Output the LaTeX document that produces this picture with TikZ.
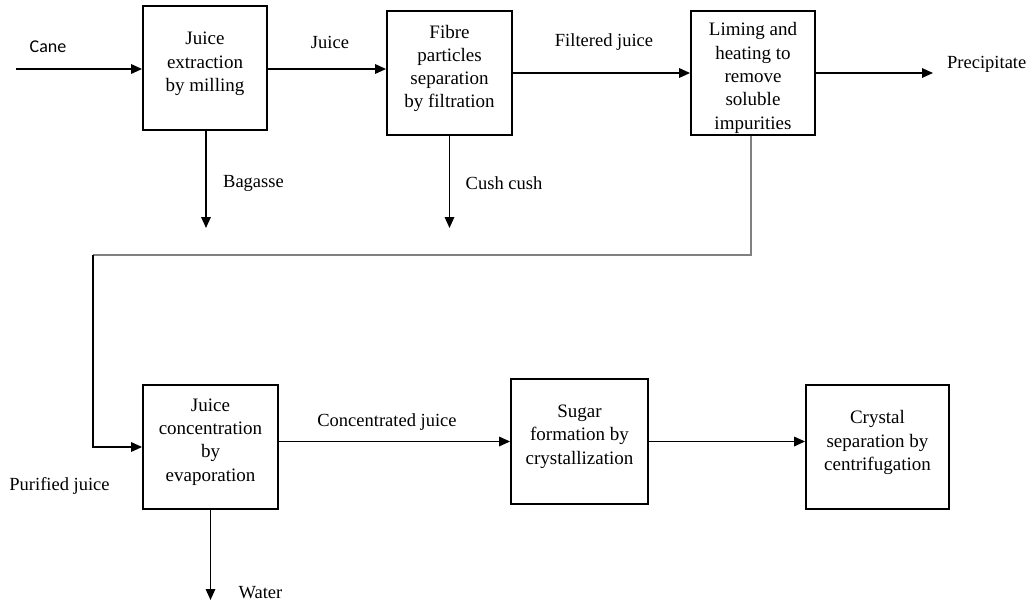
\documentclass[tikz,border=0pt]{standalone}
\usepackage{fontspec}
\setmainfont{Liberation Serif}
\newfontfamily\canefont{Carlito}
\usetikzlibrary{arrows.meta}
\begin{document}
\begin{tikzpicture}[x=1pt,y=-1pt,
  box/.style={draw, line width=1.8pt, inner sep=0pt},
  boxtxt/.style={align=center, font=\rmfamily\fontsize{19}{23.3}\selectfont, inner sep=0pt},
  lbl/.style={font=\rmfamily\fontsize{18.5}{22}\selectfont, inner sep=0pt},
  flow/.style={line width=1.7pt, -{Triangle[length=11pt,width=9.5pt]}},
  greyline/.style={line width=1.3pt, draw=black!50}
]
\useasboundingbox (0,0) rectangle (1031,606);

% boxes
\node[box, minimum width=124pt, minimum height=124pt,
  label={[boxtxt, yshift=4pt]center:Juice\\extraction\\by milling}] (b1) at (205,68) {};
\node[box, minimum width=125pt, minimum height=124pt,
  label={[boxtxt, yshift=4.5pt]center:Fibre\\particles\\separation\\by filtration}] (b2) at (449.5,73) {};
\node[box, minimum width=124pt, minimum height=124pt,
  label={[boxtxt, yshift=-5pt]center:Liming and\\heating to\\remove\\soluble\\impurities}] (b3) at (753,73) {};
\node[box, minimum width=135pt, minimum height=124pt,
  label={[boxtxt, yshift=5pt]center:Juice\\concentration\\by\\evaporation}] (b4) at (210.5,447) {};
\node[box, minimum width=137pt, minimum height=125pt,
  label={[boxtxt, yshift=5pt]center:Sugar\\formation by\\crystallization}] (b5) at (579.5,441.5) {};
\node[box, minimum width=143pt, minimum height=124pt,
  label={[boxtxt, yshift=4.5pt]center:Crystal\\separation by\\centrifugation}] (b6) at (877.5,447) {};

% free ends
\coordinate (cane) at (16,69);
\coordinate (prec) at (933,73);
\coordinate (bag) at (206,228);
\coordinate (cush) at (449.5,228);
\coordinate (water) at (210.5,600);
\coordinate (turn) at (93,255);

% connectors
\draw[flow] (cane) -- (cane -| b1.west);
\draw[flow] ([yshift=-1pt]b1.east) -- ([yshift=-1pt]b1.east -| b2.west);
\draw[flow] (b2.east) -- (b3.west);
\draw[flow] (b3.east) -- (prec);
\draw[flow] (bag |- b1.south) -- (bag);
\draw[flow] (b2.south) -- (cush);
\draw[greyline] ([xshift=-2pt]b3.south) |- (turn);
\draw[flow] (turn) |- (b4.west);
\draw[flow] (b5.west -| b4.east) -- (b5.west);
\draw[flow] (b5.east) -- (b5.east -| b6.west);
\draw[flow] (b4.south) -- (water);

% labels
\node[inner sep=0pt, font=\canefont\fontsize{18}{22}\selectfont] (lcane) at (48,47) {Cane};
\node[lbl] (ljuice) at (330,42) {Juice};
\node[lbl] (lfilt) at (604,42) {Filtered juice};
\node[lbl, anchor=west] (lprec) at (947,64) {Precipitate};
\node[lbl] (lbag) at (253.5,183) {Bagasse};
\node[lbl] (lcush) at (504,183) {Cush cush};
\node[lbl] (lpur) at (59.5,486) {Purified juice};
\node[lbl] (lconc) at (387,422) {Concentrated juice};
\node[lbl] (lwater) at (260.5,593) {Water};
\end{tikzpicture}
\end{document}
